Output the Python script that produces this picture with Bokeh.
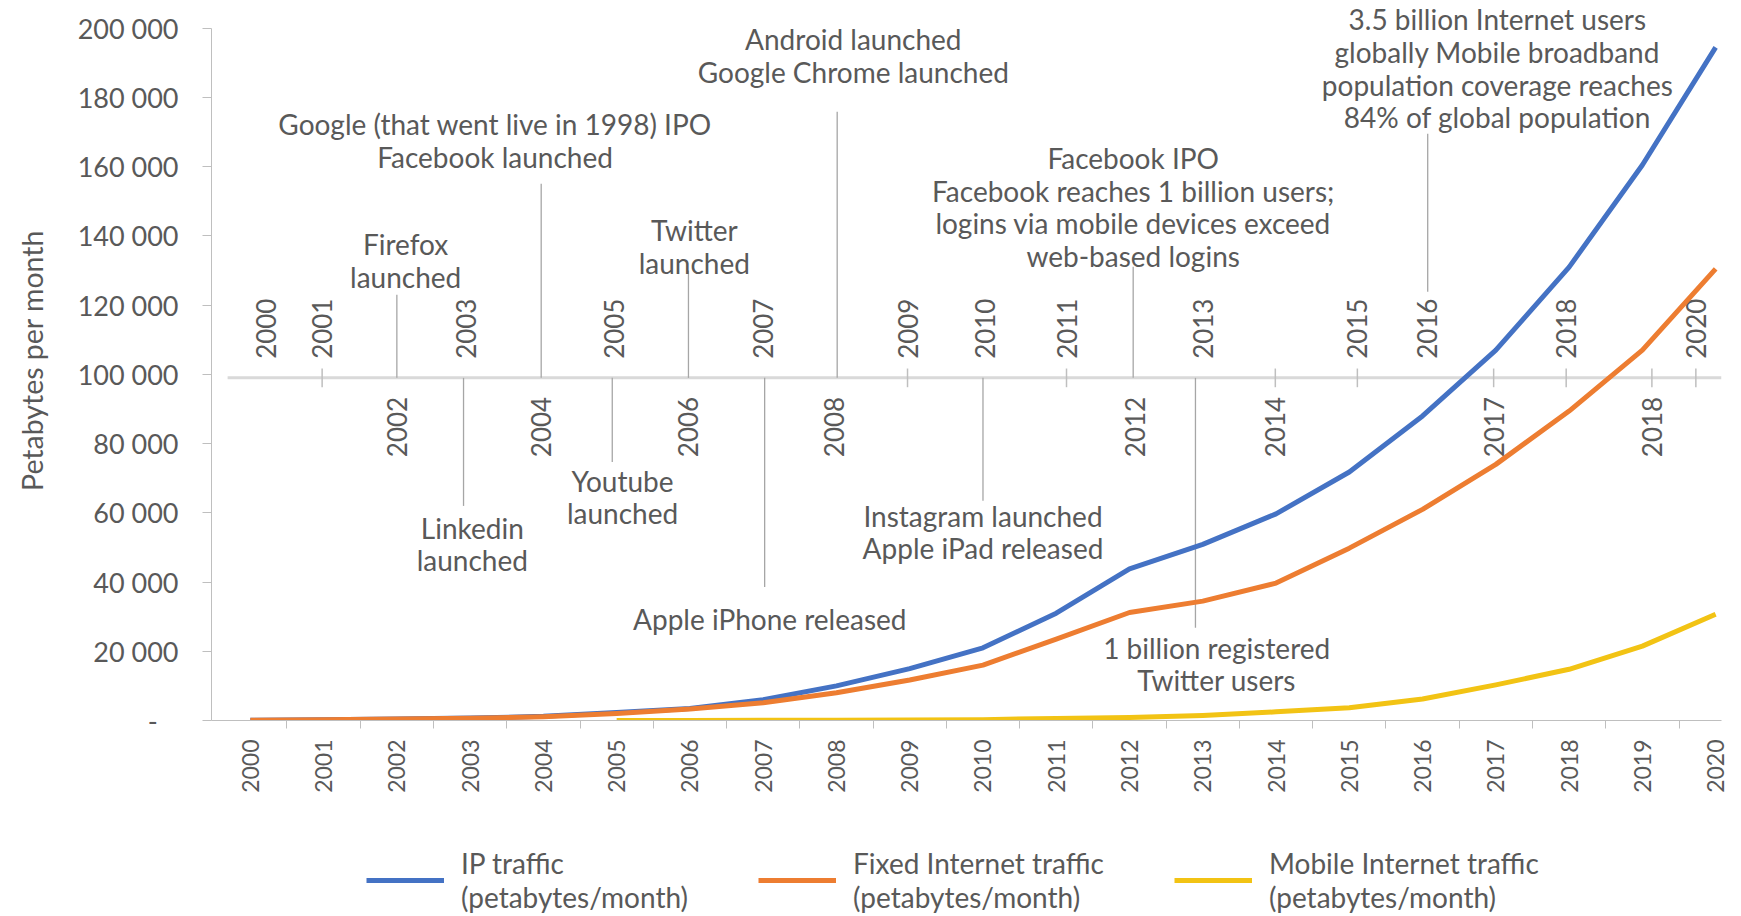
from math import pi
from bokeh.plotting import figure
from bokeh.layouts import column
from bokeh.models import Range1d, FixedTicker, Legend, LegendItem
from bokeh.core.properties import value
from bokeh.embed import file_html
from bokeh.resources import INLINE

# ---------------- data ----------------
years = list(range(2000, 2021))
ip_traffic = [100, 200, 400, 700, 1200, 2300, 3500, 6000, 10000, 15000, 21000,
              31000, 43800, 50900, 59700, 71800, 88000, 107000, 131000, 160500, 194500]
fixed_traffic = [100, 200, 400, 650, 1100, 2000, 3300, 5100, 8000, 11700, 16000,
                 23500, 31200, 34500, 39700, 49800, 61000, 74000, 89400, 107000, 130500]
mobile_years = list(range(2005, 2021))
mobile_traffic = [1, 20, 60, 100, 150, 240, 600, 890, 1480, 2500, 3700,
                  6200, 10300, 14800, 21500, 30700]

series_names = ["IP traffic\n(petabytes/month)",
                "Fixed Internet traffic\n(petabytes/month)",
                "Mobile Internet traffic\n(petabytes/month)"]

y_ticks = [0, 20000, 40000, 60000, 80000, 100000, 120000, 140000, 160000, 180000, 200000]
y_tick_labels = ["-\u00a0\u00a0\u00a0", "20 000", "40 000", "60 000", "80 000", "100 000",
                 "120 000", "140 000", "160 000", "180 000", "200 000"]

# timeline (annotation layer)
timeline_level = 99000
timeline_above_labels = ["2000", "2001", "2003", "2005", "2007", "2009", "2010", "2011",
                         "2013", "2015", "2016", "2018", "2020"]
timeline_above_x = [2000.22, 2000.98, 2002.95, 2004.97, 2007.0, 2008.97, 2010.03, 2011.14,
                    2013.0, 2015.11, 2016.06, 2017.96, 2019.73]
timeline_below_labels = ["2002", "2004", "2006", "2008", "2012", "2014", "2017", "2018"]
timeline_below_x = [2002.0, 2003.97, 2005.98, 2007.96, 2012.08, 2013.99, 2016.97, 2019.13]
timeline_tick_x = [2000.98, 2008.97, 2011.14, 2013.99, 2015.11, 2016.97, 2017.96, 2019.13, 2019.73]

event_texts = ["Firefox\nlaunched",
               "Google (that went live in 1998) IPO\nFacebook launched",
               "Twitter\nlaunched",
               "Android launched\nGoogle Chrome launched",
               "Facebook IPO\nFacebook reaches 1 billion users;\nlogins via mobile devices exceed\nweb-based logins",
               "3.5 billion Internet users\nglobally Mobile broadband\npopulation coverage reaches\n84% of global population",
               "Linkedin\nlaunched",
               "Youtube\nlaunched",
               "Apple iPhone released",
               "Instagram launched\nApple iPad released",
               "1 billion registered\nTwitter users"]
event_text_x = [2002.12, 2003.34, 2006.06, 2008.23, 2012.05, 2017.02,
                2003.03, 2005.08, 2007.09, 2010.0, 2013.19]
event_text_y = [132900, 167550, 136900, 192130, 148330, 188400,
                51030, 64620, 29350, 54500, 16340]
event_line_x = [2002.0, 2003.97, 2005.98, 2008.01, 2012.05, 2016.07,
                2002.91, 2004.94, 2007.02, 2010.0, 2012.9]
event_line_y0 = [99000, 99000, 99000, 99000, 99000, 123900,
                 99000, 99000, 99000, 99000, 99000]
event_line_y1 = [123000, 155100, 130000, 175900, 131100, 169500,
                 62000, 74700, 38600, 63500, 26800]

# ---------------- styling ----------------
FONT = "Lato"
TXT = "#595959"
BLUE, ORANGE, YELLOW = "#4472C4", "#ED7D31", "#F2C314"
W = 1733

p = figure(width=W, height=806,
           x_range=Range1d(1999.47, 2020.08), y_range=Range1d(0, 208036),
           output_backend="svg", toolbar_location=None,
           min_border_left=211, min_border_right=12, min_border_top=0, min_border_bottom=86)
p.outline_line_color = None
p.grid.visible = False

# y axis
ya = p.yaxis[0]
ya.ticker = FixedTicker(ticks=y_ticks)
ya.major_label_overrides = dict(zip(y_ticks, y_tick_labels))
ya.bounds = (0, 200000)
ya.axis_line_color = "#BFBFBF"
ya.major_tick_line_color = "#BFBFBF"
ya.major_tick_out = 9
ya.major_tick_in = 0
ya.minor_tick_line_color = None
ya.major_label_text_font = FONT
ya.major_label_text_font_size = "27px"
ya.major_label_text_color = TXT
ya.major_label_standoff = 24
ya.axis_label = "Petabytes per month"
ya.axis_label_text_font = FONT
ya.axis_label_text_font_size = "28.5px"
ya.axis_label_text_font_style = "normal"
ya.axis_label_text_color = TXT
ya.axis_label_standoff = 26

# x axis
xa = p.xaxis[0]
xa.ticker = FixedTicker(ticks=years, minor_ticks=[y + 0.5 for y in years[:-1]])
xa.axis_line_color = "#BFBFBF"
xa.major_tick_line_color = None
xa.major_tick_out = 0
xa.major_tick_in = 0
xa.minor_tick_line_color = "#BFBFBF"
xa.minor_tick_out = 8
xa.minor_tick_in = 0
xa.major_label_orientation = pi / 2
xa.major_label_text_font = FONT
xa.major_label_text_font_size = "23px"
xa.major_label_text_color = TXT
xa.major_label_standoff = 11

# timeline
p.segment(x0=[1999.69], y0=[timeline_level], x1=[2020.08], y1=[timeline_level],
          line_color="#D9D9D9", line_width=3)
p.segment(x0=timeline_tick_x, y0=[timeline_level - 2700] * len(timeline_tick_x),
          x1=timeline_tick_x, y1=[timeline_level + 2700] * len(timeline_tick_x),
          line_color="#BFBFBF", line_width=1.5)
p.segment(x0=event_line_x, y0=event_line_y0, x1=event_line_x, y1=event_line_y1,
          line_color="#A6A6A6", line_width=1.3)
p.text(x=timeline_above_x, y=[timeline_level] * len(timeline_above_x), text=timeline_above_labels,
       angle=pi / 2, text_align="left", text_baseline="middle", y_offset=-19,
       text_font=value(FONT), text_font_size="26px", text_color=TXT)
p.text(x=timeline_below_x, y=[timeline_level] * len(timeline_below_x), text=timeline_below_labels,
       angle=pi / 2, text_align="right", text_baseline="middle", y_offset=19,
       text_font=value(FONT), text_font_size="26px", text_color=TXT)
p.text(x=event_text_x, y=event_text_y, text=event_texts,
       text_align="center", text_baseline="middle", text_line_height=0.96,
       text_font=value(FONT), text_font_size="28px", text_color=TXT)

# data series
p.line(years, ip_traffic, line_color=BLUE, line_width=5, line_join="round")
p.line(years, fixed_traffic, line_color=ORANGE, line_width=5, line_join="round")
p.line(mobile_years, mobile_traffic, line_color=YELLOW, line_width=5, line_join="round")

# legend strip (same series, drawn out of view so only the legend shows)
pl = figure(width=W, height=108, x_range=Range1d(0, 1), y_range=Range1d(0, 1),
            output_backend="svg", toolbar_location=None,
            x_axis_type=None, y_axis_type=None, min_border=0)
pl.outline_line_color = None
pl.grid.visible = False
l_ip = pl.line(years, ip_traffic, line_color=BLUE, line_width=5)
l_fx = pl.line(years, fixed_traffic, line_color=ORANGE, line_width=5)
l_mb = pl.line(mobile_years, mobile_traffic, line_color=YELLOW, line_width=5)
legend = Legend(items=[LegendItem(label=series_names[0], renderers=[l_ip]),
                       LegendItem(label=series_names[1], renderers=[l_fx]),
                       LegendItem(label=series_names[2], renderers=[l_mb])],
                orientation="horizontal", location=(155, 0),
                label_text_font=FONT, label_text_font_size="28px", label_text_color=TXT,
                label_text_line_height=1.0, glyph_width=78, glyph_height=20,
                label_standoff=17, spacing=70, padding=0, margin=0,
                border_line_color=None, background_fill_alpha=0)
pl.add_layout(legend)

layout = column(p, pl, spacing=0)
open("out.html", "w").write(file_html(layout, INLINE))
